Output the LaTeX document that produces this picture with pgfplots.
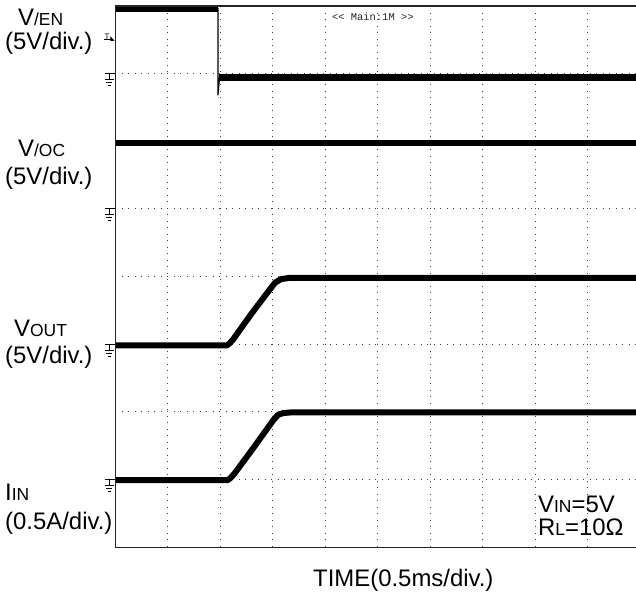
\documentclass[border=0pt]{standalone}
\usepackage{fontspec}
\setmainfont{Liberation Sans}
\newfontfamily\scopefont{Liberation Mono}
\usepackage{pgfplots}
\pgfplotsset{compat=1.18}

\newcommand{\bigf}{\fontsize{24}{28}\selectfont}
\newcommand{\smf}{\fontsize{17.5}{20}\selectfont}
% ground marker on the left edge of the screen
\newcommand{\gnd}[1]{%
  \draw[black, line width=0.8bp] ([xshift=-10bp]axis cs:0,#1) -- (axis cs:0,#1);
  \draw[black, line width=0.8bp] ([xshift=-5.5bp]axis cs:0,#1) -- ([xshift=-5.5bp,yshift=-6bp]axis cs:0,#1);
  \draw[black, line width=0.8bp] ([xshift=-10bp,yshift=-6bp]axis cs:0,#1) -- ([xshift=-1bp,yshift=-6bp]axis cs:0,#1);
  \draw[black, line width=0.8bp] ([xshift=-8.5bp,yshift=-9bp]axis cs:0,#1) -- ([xshift=-2.5bp,yshift=-9bp]axis cs:0,#1);
  \draw[black, line width=0.8bp] ([xshift=-7bp,yshift=-12bp]axis cs:0,#1) -- ([xshift=-4bp,yshift=-12bp]axis cs:0,#1);
}

\begin{document}
\begin{tikzpicture}
\begin{axis}[
  scale only axis, width=521bp, height=541bp,
  xmin=0, xmax=9.924, ymin=0, ymax=8,
  xtick={1,...,9}, ytick={1,...,7},
  xticklabels={}, yticklabels={}, major tick length=0pt,
  axis line style={draw=none},
  grid=major,
  grid style={black!75, line width=1bp, dash pattern=on 1bp off 5.5bp},
  clip=false,
]
% V/EN
\addplot[black, line width=6bp] coordinates {
  (0,7.95) (1.96,7.95)
};
\addplot[black, line width=7.5bp] coordinates {
  (1.985,6.94) (9.924,6.94)
};
\addplot[black, line width=1.3bp] coordinates {
  (1.96,7.97) (1.96,6.68) (1.99,6.94)
};
% V/OC
\addplot[black, line width=6bp] coordinates {
  (0,5.98) (9.924,5.98)
};
% VOUT
\addplot[black, line width=6bp, line join=round] coordinates {
  (0,2.98) (2.13,2.98) (2.18,3.01) (2.25,3.07) (2.6,3.45) (2.95,3.81)
  (3.05,3.91) (3.16,3.96) (3.32,3.98) (9.924,3.98)
};
% IIN
\addplot[black, line width=6bp, line join=round] coordinates {
  (0,0.99) (2.15,0.99) (2.20,1.02) (2.27,1.08) (2.65,1.48) (3.01,1.87)
  (3.10,1.95) (3.20,1.98) (3.35,1.99) (9.924,1.99)
};
% screen frame
\draw[black!85, line width=0.8bp] (axis cs:9.924,8) -- (axis cs:0,8) -- (axis cs:0,0) -- (axis cs:9.924,0);
\draw[black!85, line width=1.6bp] (axis cs:0,8) -- (axis cs:9.924,8);
\gnd{7}
\gnd{5}
\gnd{3}
\gnd{1}
% trigger level marker
\node[font=\fontsize{8}{8}\selectfont, inner sep=0pt, anchor=base] at ([xshift=-8bp,yshift=0.5bp]axis cs:0,7.5) {T};
\draw[black, line width=0.7bp] ([xshift=-11bp]axis cs:0,7.5) -- ([xshift=-4bp]axis cs:0,7.5);
\fill[black] ([xshift=-4.5bp,yshift=3.5bp]axis cs:0,7.5) -- ([xshift=-0.5bp,yshift=-1bp]axis cs:0,7.5) -- ([xshift=-4.5bp,yshift=-1bp]axis cs:0,7.5) -- cycle;
\node[font=\scopefont\fontsize{10.5}{10.5}\selectfont, text=black!85, inner sep=0pt, anchor=base west]
  at (axis cs:4.13,7.79) {<{}< Main:1M >{}>};
\end{axis}

\begin{scope}[every node/.style={inner sep=0pt, anchor=base west}]
\node at (-97bp,521bp) {\bigf V\smf /EN};
\node at (-110bp,497bp) {\bigf (5V/div.)};
\node at (-97bp,390bp) {\bigf V\smf /OC};
\node at (-110bp,362bp) {\bigf (5V/div.)};
\node at (-101bp,210bp) {\bigf V\smf OUT};
\node at (-110bp,183bp) {\bigf (5V/div.)};
\node at (-110bp,46bp) {\bigf I\smf IN};
\node at (-110bp,18bp) {\bigf (0.5A/div.)};
\node at (423bp,35bp) {\bigf V\smf IN\bigf =5V};
\node at (423bp,12bp) {\bigf R\smf L\bigf =10Ω};
\node at (198bp,-39bp) {\bigf TIME(0.5ms/div.)};
\end{scope}

\pgfresetboundingbox
\path[use as bounding box] (-115bp,-49bp) rectangle (521bp,547bp);
\end{tikzpicture}
\end{document}
